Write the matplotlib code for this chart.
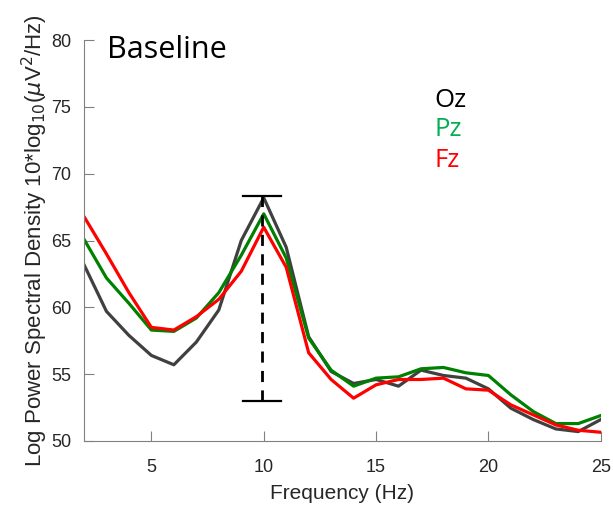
import numpy as np
import matplotlib
matplotlib.use("Agg")
import matplotlib.pyplot as plt

# values (dB), 2..25 Hz
freqs = np.arange(2, 26)
oz = [63.2, 59.7, 57.9, 56.4, 55.7, 57.4, 59.8, 65.0, 68.2, 64.5, 57.8, 55.2,
      54.3, 54.6, 54.1, 55.3, 54.9, 54.7, 53.9, 52.45, 51.6, 50.9, 50.7, 51.6]
pz = [65.1, 62.2, 60.3, 58.3, 58.2, 59.2, 61.1, 63.9, 67.0, 63.7, 57.7, 55.3,
      54.1, 54.7, 54.8, 55.4, 55.5, 55.1, 54.9, 53.45, 52.2, 51.3, 51.3, 51.9]
fz = [66.8, 64.0, 61.1, 58.5, 58.3, 59.3, 60.6, 62.7, 66.0, 63.0, 56.6, 54.6,
      53.2, 54.2, 54.6, 54.6, 54.7, 53.9, 53.8, 52.7, 51.95, 51.2, 50.8, 50.65]
err_x = 9.92
err_lo, err_hi = 53.0, 68.3

plt.rcParams['font.family'] = ['Liberation Sans', 'DejaVu Sans']
fig = plt.figure(figsize=(6.13, 5.08), dpi=100)
ax = fig.add_axes([0.137, 0.132, 0.843, 0.789])

ax.plot(freqs, oz, color='#404040', lw=2.3)
ax.plot(freqs, pz, color='#008000', lw=2.3)
ax.plot(freqs, fz, color='#ff0000', lw=2.3)

# dashed range bar at alpha peak
ax.plot([err_x, err_x], [err_lo, err_hi], color='black', lw=2, ls=(0, (4, 3)))
ax.plot([err_x - 0.85, err_x + 0.85], [err_hi, err_hi], color='black', lw=1.6)
ax.plot([err_x - 0.85, err_x + 0.85], [err_lo, err_lo], color='black', lw=1.6)

ax.set_xlim(2, 25)
ax.set_ylim(50, 80)
ax.set_xticks([5, 10, 15, 20, 25])
ax.set_yticks([50, 55, 60, 65, 70, 75, 80])
for s in ['top', 'right']:
    ax.spines[s].set_visible(False)
for s in ['left', 'bottom']:
    ax.spines[s].set_color('#808080')
ax.tick_params(direction='in', length=7, color='#808080', labelsize=13,
               labelcolor='#262626')
ax.tick_params(axis='x', pad=13)
ax.tick_params(axis='y', pad=9)

ax.set_xlabel('Frequency (Hz)', fontsize=15, color='#262626', labelpad=6)
ax.set_ylabel(r'Log Power Spectral Density 10*log$_{10}$($\mu$V$^2$/Hz)',
              fontsize=16, color='#262626', labelpad=1)

ax.text(0.044, 0.955, 'Baseline', transform=ax.transAxes, fontsize=22,
        family='Open Sans', va='baseline', ha='left')
ax.text(0.679, 0.833, 'Oz', transform=ax.transAxes, fontsize=18.5,
        family='Open Sans', color='black', va='baseline')
ax.text(0.679, 0.761, 'Pz', transform=ax.transAxes, fontsize=18.5,
        family='Open Sans', color='#00b050', va='baseline')
ax.text(0.679, 0.684, 'Fz', transform=ax.transAxes, fontsize=18.5,
        family='Open Sans', color='#ff0000', va='baseline')

fig.savefig('out.png', dpi=100)
